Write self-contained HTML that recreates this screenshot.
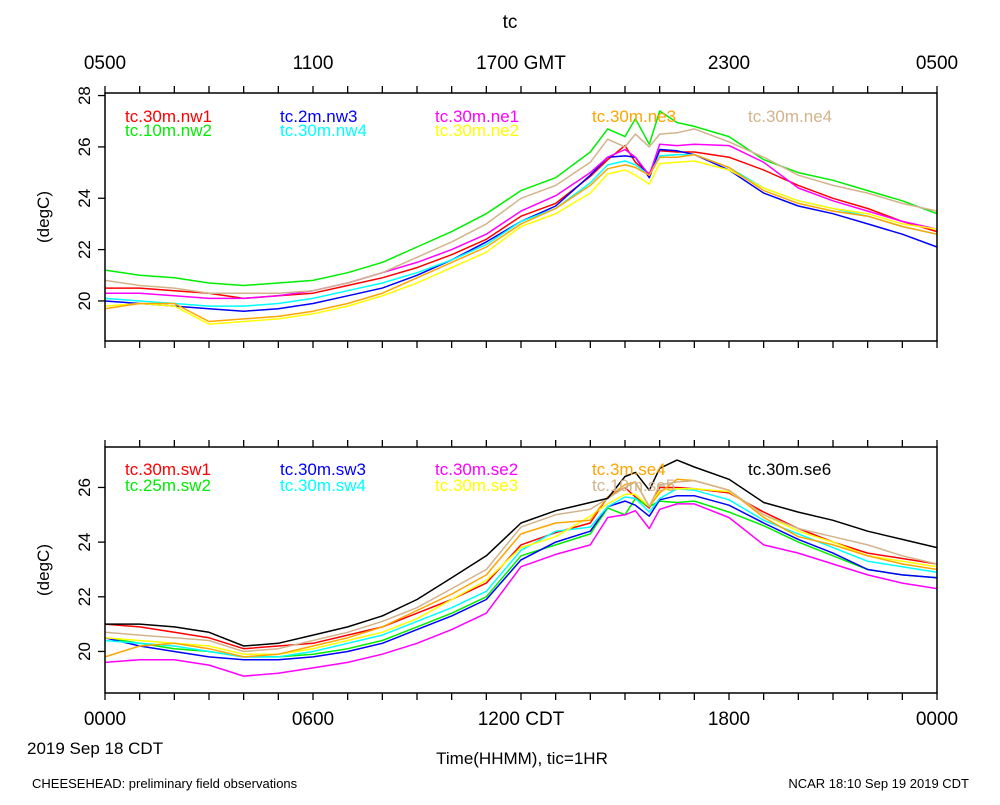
<!DOCTYPE html>
<html><head><meta charset="utf-8">
<style>
body{margin:0;background:#fff;}
svg text{font-family:"Liberation Sans",Arial,sans-serif;}
</style></head>
<body>
<svg id="chart" width="1000" height="800" viewBox="0 0 1000 800" xmlns="http://www.w3.org/2000/svg">
<rect width="1000" height="800" fill="#fff"/>
<g id="g"></g>
</svg>
<script>
const times=[0,1,2,3,4,5,6,7,8,9,10,11,12,13,14,14.5,15,15.3,15.7,16,16.5,17,18,19,20,21,22,23,24];
const topNames=["tc.30m.nw1","tc.10m.nw2","tc.2m.nw3","tc.30m.nw4","tc.30m.ne1","tc.30m.ne2","tc.30m.ne3","tc.30m.ne4"];
const topColors=["#ff0000","#00ee00","#0000ff","#00ffff","#ff00ff","#ffff00","#ffa500","#d2b48c"];
const nw1=[20.5,20.5,20.4,20.3,20.1,20.2,20.3,20.6,20.9,21.3,21.8,22.4,23.3,23.8,24.85,25.5,26.05,25.4,24.95,25.85,25.8,25.8,25.6,25.1,24.5,24.0,23.6,23.1,22.7];
const nw2=[21.2,21.0,20.9,20.7,20.6,20.7,20.8,21.1,21.5,22.1,22.7,23.4,24.3,24.8,25.8,26.7,26.4,27.1,26.1,27.4,26.95,26.8,26.4,25.5,25.0,24.7,24.3,23.9,23.4];
const nw3=[20.0,19.9,19.8,19.7,19.6,19.7,19.9,20.2,20.5,21.0,21.6,22.3,23.1,23.7,24.9,25.6,25.65,25.6,24.8,25.9,25.85,25.7,25.1,24.2,23.7,23.4,23.0,22.6,22.1];
const nw4=[20.1,20.0,19.9,19.8,19.8,19.9,20.1,20.4,20.7,21.1,21.6,22.2,23.1,23.6,24.6,25.3,25.45,25.3,24.9,25.65,25.7,25.7,25.2,24.4,23.9,23.6,23.3,22.9,22.6];
const ne1=[20.3,20.3,20.2,20.1,20.1,20.2,20.4,20.7,21.1,21.5,22.0,22.6,23.5,24.1,25.0,25.6,25.9,25.6,24.9,26.1,26.05,26.1,26.05,25.4,24.4,23.9,23.5,23.1,22.8];
const ne2=[19.8,19.9,19.8,19.1,19.2,19.3,19.5,19.8,20.2,20.7,21.3,21.9,22.9,23.4,24.2,24.95,25.1,24.9,24.55,25.35,25.4,25.45,25.1,24.4,23.9,23.6,23.4,23.0,22.8];
const ne3=[19.7,19.9,19.9,19.2,19.3,19.4,19.6,19.9,20.3,20.9,21.5,22.1,23.0,23.6,24.5,25.15,25.3,25.2,24.9,25.6,25.6,25.7,25.2,24.3,23.8,23.5,23.3,22.9,22.6];
const ne4=[20.8,20.6,20.5,20.3,20.3,20.3,20.4,20.7,21.1,21.7,22.3,23.0,24.0,24.5,25.4,26.3,26.0,26.5,26.0,26.5,26.55,26.7,26.2,25.6,24.9,24.5,24.2,23.8,23.5];
const botNames=["tc.30m.sw1","tc.25m.sw2","tc.30m.sw3","tc.30m.sw4","tc.30m.se2","tc.30m.se3","tc.3m.se4","tc.10m.se5","tc.30m.se6"];
const botColors=["#ff0000","#00ee00","#0000ff","#00ffff","#ff00ff","#ffff00","#ffa500","#d2b48c","#000000"];
const sw1=[21.0,20.9,20.7,20.5,20.1,20.2,20.3,20.6,20.9,21.4,21.9,22.5,23.9,24.35,24.7,25.65,26.0,25.65,25.25,26.0,26.0,25.95,25.8,25.1,24.5,24.0,23.6,23.4,23.2];
const sw2=[20.5,20.3,20.1,20.0,19.8,19.8,19.9,20.1,20.4,20.9,21.4,22.0,23.5,23.9,24.3,25.25,25.0,25.6,25.3,25.5,25.45,25.5,25.1,24.6,24.0,23.5,23.0,22.8,22.7];
const sw3=[20.5,20.2,20.0,19.8,19.7,19.7,19.8,20.0,20.3,20.8,21.3,21.9,23.35,24.0,24.4,25.3,25.5,25.35,24.95,25.55,25.7,25.7,25.35,24.7,24.1,23.6,23.0,22.8,22.7];
const sw4=[20.4,20.3,20.2,20.0,19.8,19.8,20.0,20.3,20.6,21.1,21.6,22.2,23.7,24.4,24.55,25.3,25.65,25.6,25.1,25.6,25.95,25.9,25.55,24.8,24.3,23.8,23.3,23.1,22.9];
const se2=[19.6,19.7,19.7,19.5,19.1,19.2,19.4,19.6,19.9,20.3,20.8,21.4,23.1,23.55,23.9,24.9,25.0,25.15,24.5,25.2,25.4,25.4,24.9,23.9,23.6,23.2,22.8,22.5,22.3];
const se3=[20.5,20.4,20.3,20.2,19.9,19.9,20.1,20.4,20.7,21.2,21.9,22.6,23.8,24.2,24.95,25.4,25.75,25.75,25.3,25.9,25.95,25.95,25.85,25.0,24.4,24.0,23.5,23.3,23.1];
const se4=[19.8,20.2,20.3,20.1,19.8,19.9,20.2,20.5,20.9,21.5,22.1,22.8,24.3,24.7,24.8,25.65,26.1,26.2,25.3,25.8,26.3,26.25,25.9,24.9,24.2,23.9,23.5,23.2,23.0];
const se5=[20.7,20.6,20.5,20.4,20.0,20.1,20.4,20.7,21.1,21.6,22.3,23.0,24.55,25.0,25.2,25.6,26.0,26.2,25.3,26.1,26.2,26.25,25.9,25.0,24.5,24.2,23.9,23.5,23.2];
const se6=[21.0,21.0,20.9,20.7,20.2,20.3,20.6,20.9,21.3,21.9,22.7,23.5,24.7,25.15,25.45,25.6,26.4,26.55,25.9,26.7,27.0,26.75,26.3,25.45,25.1,24.8,24.4,24.1,23.8];
const topSeries=[nw1,nw2,nw3,nw4,ne1,ne2,ne3,ne4];
const botSeries=[sw1,sw2,sw3,sw4,se2,se3,se4,se5,se6];
const topTickLabels=["0500","1100","1700 GMT","2300","0500"];
const botTickLabels=["0000","0600","1200 CDT","1800","0000"];

const NS="http://www.w3.org/2000/svg";
const g=document.getElementById('g');
function mk(tag,attrs,parent){const e=document.createElementNS(NS,tag);for(const k in attrs)e.setAttribute(k,attrs[k]);(parent||g).appendChild(e);return e;}
const X0=105,X1=937;
function xs(h){return X0+(X1-X0)*h/24;}
const panels=[
 {top:93,bot:341,vTop:28.1,vBot:18.44,series:topSeries,names:topNames,colors:topColors,ticks:[20,22,24,26,28],leg:[122,136],name:'top'},
 {top:447,bot:693,vTop:27.48,vBot:18.48,series:botSeries,names:botNames,colors:botColors,ticks:[20,22,24,26],leg:[475,491],name:'bottom'}
];
panels.forEach(p=>{
 const ys=v=>p.bot-(v-p.vBot)/(p.vTop-p.vBot)*(p.bot-p.top);
 const pg=mk('g',{});
 
 
 for(let h=0;h<=24;h++){
  const x=xs(h);
  const t1=mk('line',{x1:x,x2:x,y1:p.top,y2:p.top-7,stroke:'#000','stroke-width':1.3},pg);
  
  
  const t2=mk('line',{x1:x,x2:x,y1:p.bot,y2:p.bot+7,stroke:'#000','stroke-width':1.3},pg);
  
  
 }
 p.ticks.forEach(v=>{
  const y=ys(v);
  const t=mk('line',{x1:X0,x2:X0-7,y1:y,y2:y,stroke:'#000','stroke-width':1.3},pg);
  
  
  const tx=mk('text',{x:0,y:0,'font-size':17,'text-anchor':'middle',transform:`translate(${X0-15},${y}) rotate(-90)`},pg);
  tx.textContent=v;
  
  
 });
 const yl=mk('text',{x:0,y:0,'font-size':17,'text-anchor':'middle',transform:`translate(49,${(p.top+p.bot)/2}) rotate(-90)`},pg);
 yl.textContent='(degC)';
 
 
 p.series.forEach((s,i)=>{
  const d=s.map((v,j)=>(j?'L':'M')+xs(times[j]).toFixed(1)+','+ys(v).toFixed(1)).join('');
  const pth=mk('path',{d:d,fill:'none',stroke:p.colors[i],'stroke-width':1.5,'stroke-linejoin':'round'},pg);
  
  
 });
 const cols=[125,280,435,592,748];
 p.names.forEach((n,i)=>{
  let c=Math.floor(i/2)%4,r=i%2;
  if(p.name==='bottom'&&i===8){c=4;r=0;}
  if(p.name==='top'&&i===7){c=4;r=0;}
  if(p.name==='top'&&i===6){c=3;r=0;}
  const t=mk('text',{x:cols[c],y:p.leg[r],'font-size':17,fill:p.colors[i]},pg);
  t.textContent=n;
  
  
 });
 const fr=mk('rect',{x:X0,y:p.top,width:X1-X0,height:p.bot-p.top,fill:'none',stroke:'#000','stroke-width':1.5},pg);
 
 
});
function txt(s,x,y,size,anchor,name){const t=mk('text',{x:x,y:y,'font-size':size,'text-anchor':anchor});t.textContent=s;return t;}
txt('tc',510,28,19,'middle','chart-title');
topTickLabels.forEach((s,i)=>txt(s,xs(i*6),69,19,'middle','top-x-tick-label'));
botTickLabels.forEach((s,i)=>txt(s,xs(i*6),725,19,'middle','bottom-x-tick-label'));
txt('2019 Sep 18 CDT',27,754,17,'start','date-label');
txt('Time(HHMM), tic=1HR',522,764,17,'middle','x-axis-title');
txt('CHEESEHEAD: preliminary field observations',32,788,13,'start','footer-left');
txt('NCAR 18:10 Sep 19 2019 CDT',969,788,13,'end','footer-right');
</script>
</body></html>
